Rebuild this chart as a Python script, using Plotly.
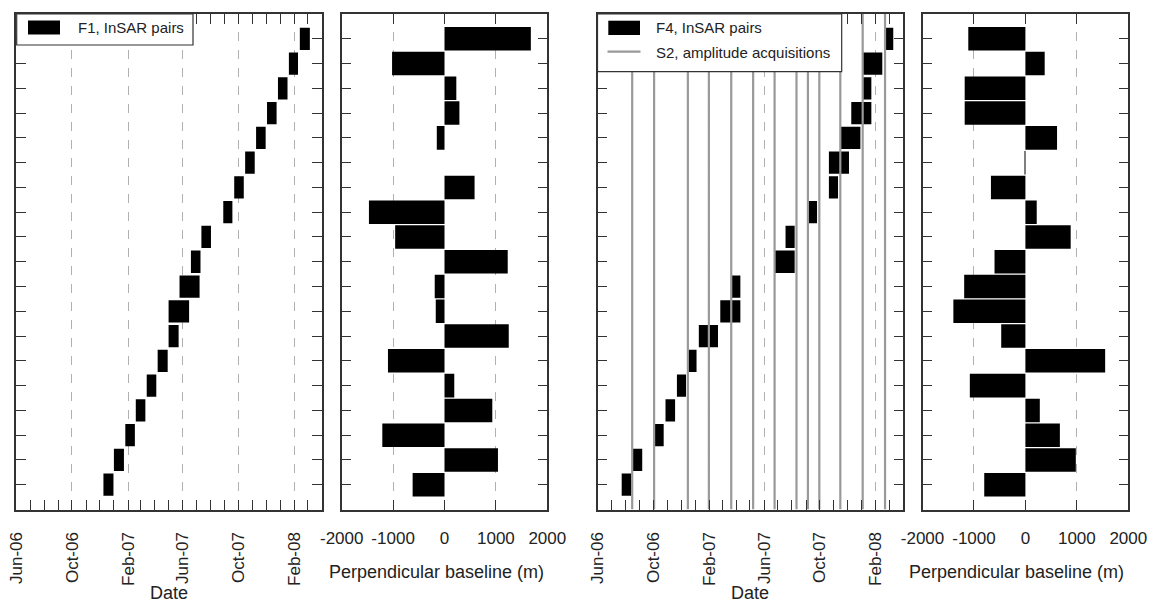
import pandas as pd
import plotly.graph_objects as go

W, H = 1151, 602

# ---------------- data ----------------
rows = list(range(1, 20))

f1_start = ["2006-12-09", "2007-01-01", "2007-01-26", "2007-02-18", "2007-03-14",
            "2007-04-07", "2007-05-01", "2007-05-01", "2007-05-25", "2007-06-19",
            "2007-07-12", "2007-08-29", "2007-09-22", "2007-10-16", "2007-11-09",
            "2007-12-03", "2007-12-27", "2008-01-20", "2008-02-13"]
f1_end = ["2006-12-31", "2007-01-23", "2007-02-16", "2007-03-11", "2007-04-04",
          "2007-04-29", "2007-05-23", "2007-06-15", "2007-07-08", "2007-07-10",
          "2007-08-02", "2007-09-18", "2007-10-13", "2007-11-06", "2007-11-30",
          "2007-12-24", "2008-01-17", "2008-02-09", "2008-03-06"]
f1_bperp = [-620, 1040, -1210, 930, 190, -1100, 1250, -170, -190, 1230,
            -960, -1470, 585, 0, -150, 290, 230, -1020, 1680]

f4_start = ["2006-07-24", "2006-08-17", "2006-10-03", "2006-10-28", "2006-11-22",
            "2006-12-16", "2007-01-09", "2007-02-25", "2007-03-21", "2007-06-24",
            "2007-07-18", "2007-09-03", "2007-10-21", "2007-10-21", "2007-11-15",
            "2007-12-09", "2008-01-03", "2008-01-03", "2008-02-21"]
f4_end = ["2006-08-14", "2006-09-07", "2006-10-24", "2006-11-18", "2006-12-12",
          "2007-01-04", "2007-02-20", "2007-04-10", "2007-04-10", "2007-08-07",
          "2007-08-07", "2007-09-25", "2007-11-10", "2007-12-04", "2007-12-29",
          "2008-01-22", "2008-01-22", "2008-02-15", "2008-03-10"]
f4_bperp = [-800, 980, 670, 280, -1080, 1550, -470, -1400, -1190, -600,
            880, 220, -670, -15, 615, -1180, -1180, 375, -1110]

s2_dates = ["2006-08-16", "2006-10-03", "2006-12-16", "2007-01-31", "2007-03-21",
            "2007-05-08", "2007-06-24", "2007-08-11", "2007-09-05", "2007-09-30",
            "2007-11-15", "2008-01-03", "2008-02-21"]

date_tickvals = ["2006-06-01", "2006-10-01", "2007-02-01", "2007-06-01",
                 "2007-10-01", "2008-02-01"]
date_ticktext = ["Jun-06", "Oct-06", "Feb-07", "Jun-07", "Oct-07", "Feb-08"]
date_range = ["2006-06-01", "2008-04-01"]

bp_tickvals = [-2000, -1000, 0, 1000, 2000]
bp_ticktext = ["-2000", "-1000", "0", "1000", "2000"]


def dur_ms(start, end):
    s = pd.to_datetime(pd.Series(start))
    e = pd.to_datetime(pd.Series(end))
    return ((e - s).dt.total_seconds() * 1000).tolist()


FONT = "Liberation Sans, Arial, Helvetica, sans-serif"
AX = "#333333"
GRID = "#b0b0b0"


def px(x):
    return x / W


def py(y):
    return (H - y) / H


y_dom = [py(509.5), py(14)]
x_doms = [[px(16.4), px(321.7)], [px(341.7), px(547.3)],
          [px(597.5), px(903.3)], [px(922.5), px(1128.3)]]

fig = go.Figure()

fig.add_trace(go.Bar(y=rows, x=dur_ms(f1_start, f1_end), base=f1_start,
                     orientation="h", width=0.9, marker=dict(color="black", line=dict(width=0)),
                     xaxis="x", yaxis="y", showlegend=False))
fig.add_trace(go.Bar(y=rows, x=f1_bperp, orientation="h", width=0.95,
                     marker=dict(color="black", line=dict(width=0)),
                     xaxis="x2", yaxis="y2", showlegend=False))

sx, sy = [], []
for d in s2_dates:
    sx += [d, d, None]
    sy += [0, 20, None]
fig.add_trace(go.Scatter(x=sx, y=sy, mode="lines", line=dict(color="#999999", width=2.2),
                         xaxis="x3", yaxis="y3", showlegend=False, hoverinfo="skip"))
fig.add_trace(go.Bar(y=rows, x=dur_ms(f4_start, f4_end), base=f4_start,
                     orientation="h", width=0.9, marker=dict(color="black", line=dict(width=0)),
                     xaxis="x3", yaxis="y3", showlegend=False))
fig.add_trace(go.Bar(y=rows, x=f4_bperp, orientation="h", width=0.95,
                     marker=dict(color="black", line=dict(width=0)),
                     xaxis="x4", yaxis="y4", showlegend=False))

MINOR_TICKS = dict(tickmode="linear", tick0="2006-06-01", dtick="M1",
                   ticks="inside", ticklen=10, tickcolor=AX, showgrid=False)


def date_axis(dom, anchor):
    return dict(type="date", range=date_range, domain=dom, anchor=anchor, automargin=False,
                tickmode="array", tickvals=date_tickvals, ticktext=date_ticktext,
                tickangle=-90, ticks="inside", ticklen=10, tickwidth=1, tickcolor=AX,
                showline=True, linecolor=AX, linewidth=1.5, mirror="allticks",
                showgrid=True, gridcolor=GRID, griddash="dash", gridwidth=1,
                zeroline=False, ticklabelstandoff=14,
                tickfont=dict(size=17, color="#222", family=FONT),
                minor=MINOR_TICKS)


def bp_axis(dom, anchor):
    return dict(range=[-2000, 2000], domain=dom, anchor=anchor, automargin=False,
                tickmode="array", tickvals=bp_tickvals, ticktext=bp_ticktext,
                ticks="inside", ticklen=10, tickcolor=AX,
                showline=True, linecolor=AX, linewidth=1.5, mirror="allticks",
                showgrid=False, zeroline=False, ticklabelstandoff=12,
                tickfont=dict(size=17, color="#222", family=FONT),
                minor=dict(tickmode="array", tickvals=[-1000, 1000], ticks="",
                           showgrid=True, gridcolor=GRID, griddash="dash", gridwidth=1))


def row_axis(anchor):
    return dict(range=[0, 20], domain=y_dom, anchor=anchor, automargin=False,
                tickmode="array",
                tickvals=rows, showticklabels=False, ticks="inside", ticklen=10,
                tickcolor=AX, showline=True, linecolor=AX, linewidth=1.5,
                mirror="ticks", showgrid=False, zeroline=False)


shapes = []
annotations = []


def legend_box(x0, y0, x1, y1):
    shapes.append(dict(type="rect", xref="paper", yref="paper", x0=px(x0), x1=px(x1),
                       y0=py(y1), y1=py(y0), fillcolor="white",
                       line=dict(color=AX, width=1.2), layer="above"))


def swatch_rect(x0, y0, x1, y1):
    shapes.append(dict(type="rect", xref="paper", yref="paper", x0=px(x0), x1=px(x1),
                       y0=py(y1), y1=py(y0), fillcolor="black",
                       line=dict(width=0), layer="above"))


def text(x, y, s, size, anchor="left"):
    annotations.append(dict(x=px(x), y=py(y), xref="paper", yref="paper", text=s,
                            showarrow=False, xanchor=anchor, yanchor="middle",
                            font=dict(size=size, color="#222", family=FONT)))


# legend panel 1
legend_box(16.7, 14, 193, 45)
swatch_rect(28, 20.5, 60, 34.5)
text(76, 27.5, "F1, InSAR pairs", 15)

# legend panel 3
legend_box(597.5, 14, 841.7, 71.7)
swatch_rect(608.3, 20.7, 640, 35)
shapes.append(dict(type="line", xref="paper", yref="paper", x0=px(607.5), x1=px(640.5),
                   y0=py(51.7), y1=py(51.7), line=dict(color="#999999", width=2.2), layer="above"))
text(654, 28, "F4, InSAR pairs", 15)
text(654, 52, "S2, amplitude acquisitions", 15)

# axis titles
text(168.5, 593, "Date", 18, "center")
text(750, 593, "Date", 18, "center")
text(436.7, 571.7, "Perpendicular baseline (m)", 18, "center")
text(1016.7, 571.7, "Perpendicular baseline (m)", 18, "center")

fig.update_layout(
    width=W, height=H, margin=dict(l=0, r=0, t=0, b=0, autoexpand=False),
    paper_bgcolor="white", plot_bgcolor="white",
    font=dict(family=FONT, color="#222"),
    barmode="overlay", showlegend=False,
    xaxis=date_axis(x_doms[0], "y"),
    yaxis=row_axis("x"),
    xaxis2=bp_axis(x_doms[1], "y2"),
    yaxis2=row_axis("x2"),
    xaxis3=date_axis(x_doms[2], "y3"),
    yaxis3=row_axis("x3"),
    xaxis4=bp_axis(x_doms[3], "y4"),
    yaxis4=row_axis("x4"),
    shapes=shapes, annotations=annotations,
)

fig.write_html("out.html")
